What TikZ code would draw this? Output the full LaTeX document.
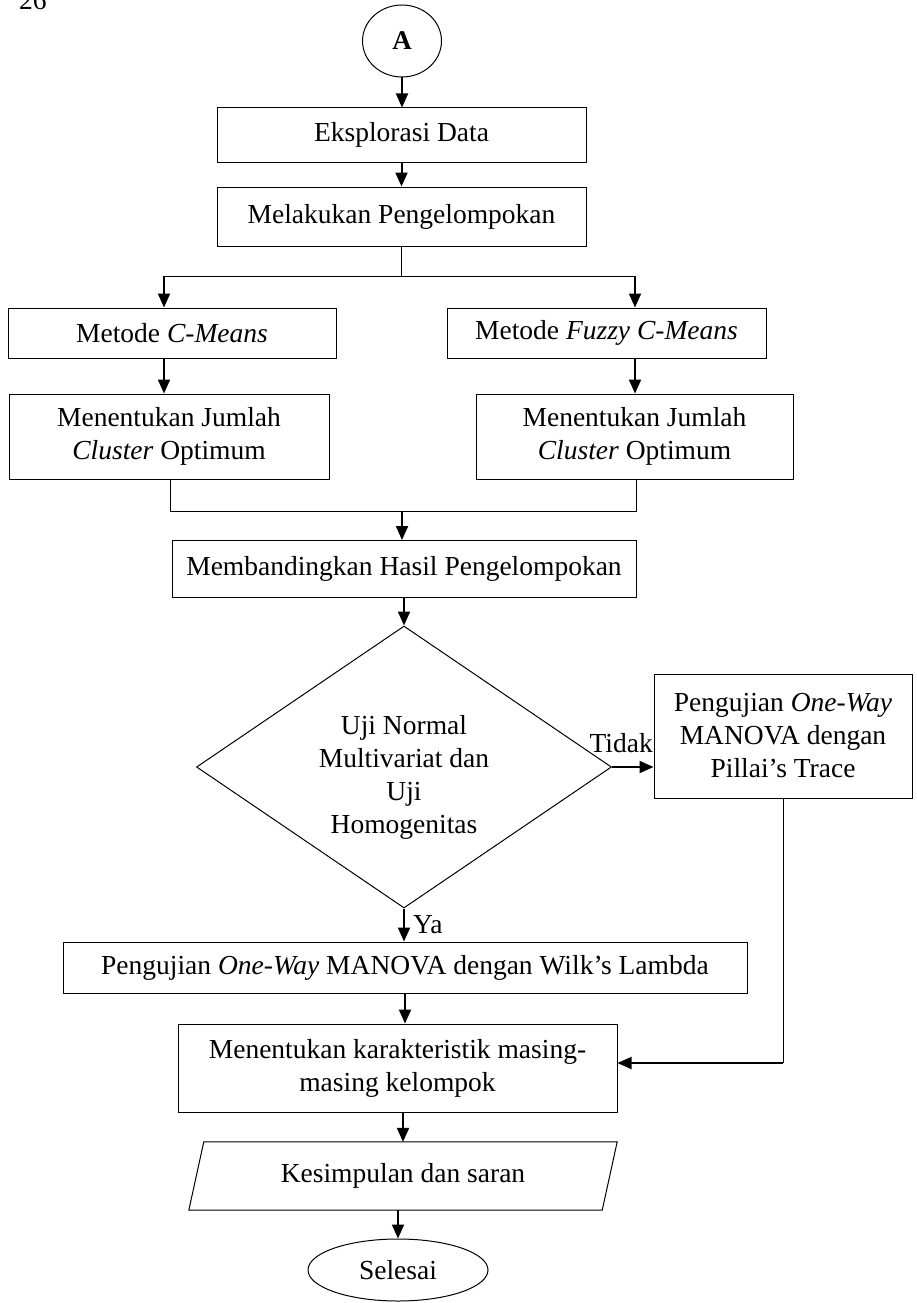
\documentclass[tikz,border=0pt]{standalone}
\usepackage{fontspec}
\setmainfont{Liberation Serif}
\usetikzlibrary{arrows.meta,shapes.geometric}
\begin{document}
\begin{tikzpicture}[x=1pt,y=-1pt,
  every node/.style={font=\fontsize{27.5}{33}\selectfont, inner sep=2pt},
  box/.style={draw, line width=1pt, rectangle, align=center},
  arr/.style={line width=2pt, -{Triangle[length=14pt,width=12pt]}},
  ln/.style={line width=1pt}]
\useasboundingbox (0,0) rectangle (917,1303);
\node[anchor=base west, inner sep=0pt] (pg) at (19,10) {26};
\node[ellipse, draw, line width=1pt, minimum width=79pt, minimum height=72pt, inner sep=0pt] (A) at (402,41) {\fontsize{27}{30}\selectfont\bfseries A};
\node[box, minimum width=369pt, minimum height=54pt] (eks) at (401.5,135) {Eksplorasi Data};
\node[box, minimum width=369pt, minimum height=59pt] (mel) at (401.5,216.5) {Melakukan Pengelompokan};
\node[box, minimum width=328pt, minimum height=50pt] (cm) at (172,333) {Metode \textit{C-Means}};
\node[box, minimum width=319pt, minimum height=50pt] (fcm) at (606.5,333) {Metode \textit{Fuzzy C-Means}};
\node[box, minimum width=320pt, minimum height=85pt] (jl) at (169,436.5) {Menentukan Jumlah\\\textit{Cluster} Optimum};
\node[box, minimum width=317pt, minimum height=85pt] (jr) at (634.5,436.5) {Menentukan Jumlah\\\textit{Cluster} Optimum};
\node[box, minimum width=464pt, minimum height=57pt] (band) at (404,569) {Membandingkan Hasil Pengelompokan};
\node[diamond, draw, line width=1pt, minimum width=415pt, minimum height=282pt, inner sep=0pt] (dec) at (404,767) {};
\node[align=center] (dect) at (404,777) {Uji Normal\\Multivariat dan\\Uji\\Homogenitas};
\node[box, minimum width=258pt, minimum height=124pt] (pil) at (783,736) {Pengujian \textit{One}-\textit{Way}\\MANOVA dengan\\Pillai’s Trace};
\node[box, minimum width=684pt, minimum height=51pt] (wilk) at (405,967.5) {Pengujian \textit{One}-\textit{Way} MANOVA dengan Wilk’s Lambda};
\node[box, minimum width=439pt, minimum height=88pt] (kar) at (397.5,1068) {Menentukan karakteristik masing-\\masing kelompok};
\node[minimum width=413pt, minimum height=68pt] (kes) at (403,1176) {Kesimpulan dan saran};
\draw[ln] ([xshift=7.5pt]kes.north west) -- ([xshift=7.5pt]kes.north east) -- ([xshift=-7.5pt]kes.south east) -- ([xshift=-7.5pt]kes.south west) -- cycle;
\node[ellipse, draw, line width=1pt, minimum width=180pt, minimum height=62pt] (sel) at (398,1270) {Selesai};
% connectors
\draw[arr] (A.south) -- (A.south |- eks.north);
\draw[arr] (eks.south) -- (mel.north);
\coordinate (bl) at (164,276);
\coordinate (brr) at (635,276);
\coordinate (bm) at (401.5,276);
\draw[ln] (mel.south) -- (bm);
\draw[ln] (bl) -- (brr);
\draw[arr] (bl) -- (bl |- cm.north);
\draw[arr] (brr) -- (brr |- fcm.north);
\draw[arr] (bl |- cm.south) -- (bl |- jl.north);
\draw[arr] (brr |- fcm.south) -- (brr |- jr.north);
\coordinate (ml) at (170,511);
\coordinate (mr) at (636,511);
\coordinate (mm) at (402,511);
\draw[ln] (ml |- jl.south) -- (ml) -- (mr) -- (mr |- jr.south);
\draw[arr] (mm) -- (mm |- band.north);
\draw[arr] (band.south) -- (dec.north);
\draw[arr] (dec.east) -- (pil.west |- dec.east);
\node[anchor=base east, inner sep=0pt] (tidak) at (653,752) {Tidak};
\draw[arr] (dec.south) -- (dec.south |- wilk.north);
\node[anchor=base west, inner sep=0pt] (ya) at (413,933) {Ya};
\draw[arr] (wilk.south) -- (wilk.south |- kar.north);
\coordinate (pk) at (783,1063);
\draw[ln] (pil.south) -- (pk);
\draw[arr] (pk) -- (kar.east |- pk);
\draw[arr] (kes.north |- kar.south) -- (kes.north);
\draw[arr] (sel.north |- kes.south) -- (sel.north);
\end{tikzpicture}
\end{document}
